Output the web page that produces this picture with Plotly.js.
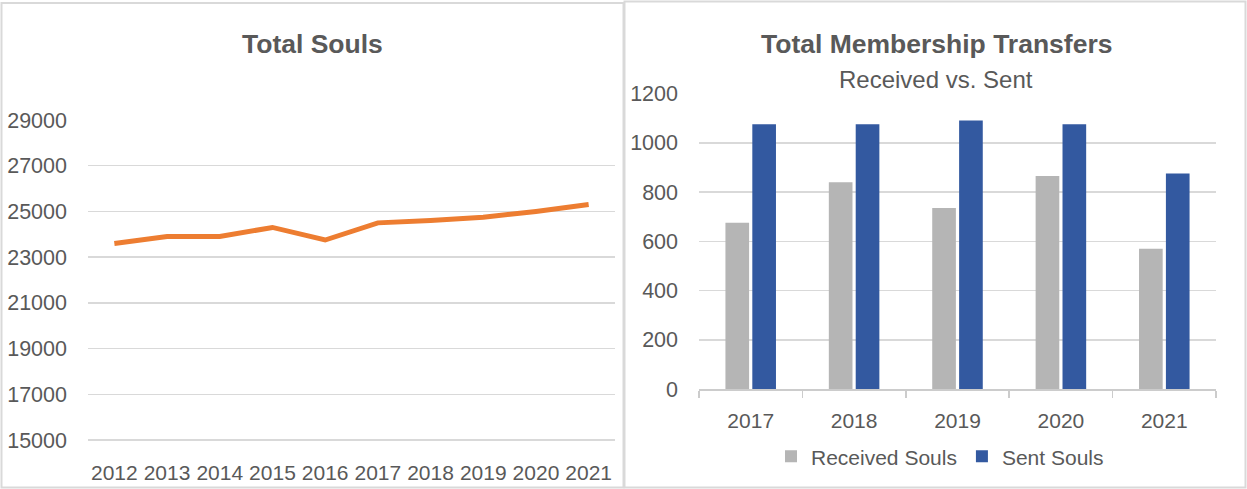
<!DOCTYPE html>
<html>
<head>
<meta charset="utf-8">
<script src="https://cdn.plot.ly/plotly-3.0.1.min.js"></script>
<style>
  html, body { margin: 0; padding: 0; background: #ffffff; }
  #chart { width: 1247px; height: 489px; }
</style>
</head>
<body>
<div id="chart"></div>
<script>
// ---- Data ----
const soulYears = ["2012", "2013", "2014", "2015", "2016", "2017", "2018", "2019", "2020", "2021"];
const totalSouls = [23600, 23900, 23900, 24300, 23750, 24500, 24600, 24750, 25000, 25300];

const transferYears = ["2017", "2018", "2019", "2020", "2021"];
const receivedSouls = [675, 840, 735, 865, 570];
const sentSouls = [1075, 1075, 1090, 1075, 875];

const soulTicks = [15000, 17000, 19000, 21000, 23000, 25000, 27000, 29000];
const transferTicks = [0, 200, 400, 600, 800, 1000, 1200];

// ---- Layout helpers ----
const W = 1247, H = 489;
const px = v => v / W;
const py = v => 1 - v / H;

const FONT = "Liberation Sans, Arial, sans-serif";
const TXT = "#595959";
const GRID = "#d9d9d9";

const traces = [
  {
    x: soulYears, y: totalSouls, type: "scatter", mode: "lines",
    name: "Total Souls", showlegend: false,
    line: { color: "#ED7D31", width: 5 },
    xaxis: "x", yaxis: "y", hoverinfo: "x+y"
  },
  {
    x: transferYears, y: receivedSouls, type: "bar", name: "Received Souls",
    marker: { color: "#b5b5b5" }, xaxis: "x2", yaxis: "y2"
  },
  {
    x: transferYears, y: sentSouls, type: "bar", name: "Sent Souls",
    marker: { color: "#3359a0" }, xaxis: "x2", yaxis: "y2"
  }
];

const layout = {
  width: W, height: H,
  margin: { l: 0, r: 0, t: 0, b: 0, pad: 0 },
  paper_bgcolor: "#ffffff", plot_bgcolor: "#ffffff",
  font: { family: FONT, color: TXT, size: 21 },
  barmode: "group", bargap: 0.48, bargroupgap: 0.12,
  xaxis: {
    domain: [px(88), px(615)], anchor: "y", type: "category",
    range: [-0.5, soulYears.length - 0.5],
    showgrid: false, zeroline: false, showline: false, ticks: "",
    tickfont: { family: FONT, size: 21, color: TXT },
    ticklabelstandoff: 16, fixedrange: true
  },
  yaxis: {
    domain: [py(442.3), py(120)], anchor: "x", range: [14900, 29000],
    tickvals: soulTicks, ticktext: soulTicks.map(String),
    showgrid: true, gridcolor: GRID, gridwidth: 1.5, zeroline: false, showline: false, ticks: "",
    tickfont: { family: FONT, size: 21.5, color: TXT },
    ticklabelstandoff: 20, fixedrange: true
  },
  xaxis2: {
    domain: [px(699), px(1216)], anchor: "y2", type: "category",
    showgrid: false, zeroline: false,
    showline: true, linecolor: "#cccccc", linewidth: 1.5,
    ticks: "outside", tickson: "boundaries", ticklen: 7, tickcolor: "#cccccc", tickwidth: 1.5,
    tickfont: { family: FONT, size: 21, color: TXT },
    ticklabelstandoff: 12, fixedrange: true
  },
  yaxis2: {
    domain: [py(389), py(93.5)], anchor: "x2", range: [0, 1200],
    tickvals: transferTicks, ticktext: transferTicks.map(String),
    showgrid: true, gridcolor: GRID, gridwidth: 1.5, zeroline: false, showline: false, ticks: "",
    tickfont: { family: FONT, size: 21.5, color: TXT },
    ticklabelstandoff: 20, fixedrange: true
  },
  legend: {
    orientation: "h", x: px(940), xanchor: "center", y: py(456.7), yanchor: "middle",
    font: { family: FONT, size: 21, color: TXT }, bgcolor: "rgba(0,0,0,0)",
    itemclick: false, itemdoubleclick: false
  },
  annotations: [
    { text: "Total Souls", xref: "paper", yref: "paper", x: px(312.5), y: py(44),
      xanchor: "center", yanchor: "middle", showarrow: false,
      font: { family: FONT, size: 26.5, color: TXT, weight: 700 } },
    { text: "Total Membership Transfers", xref: "paper", yref: "paper", x: px(936), y: py(44),
      xanchor: "center", yanchor: "middle", showarrow: false,
      font: { family: FONT, size: 26.5, color: TXT, weight: 700 } },
    { text: "Received vs. Sent", xref: "paper", yref: "paper", x: px(936), y: py(80),
      xanchor: "center", yanchor: "middle", showarrow: false,
      font: { family: FONT, size: 24, color: TXT } }
  ],
  shapes: [
    { type: "rect", xref: "paper", yref: "paper", x0: px(1.5), x1: px(623.5), y0: py(487.5), y1: py(3),
      line: { color: GRID, width: 2 }, fillcolor: "rgba(0,0,0,0)", layer: "below" },
    { type: "rect", xref: "paper", yref: "paper", x0: px(624.5), x1: px(1245.5), y0: py(487.5), y1: py(1.5),
      line: { color: GRID, width: 2 }, fillcolor: "rgba(0,0,0,0)", layer: "below" }
  ],
  showlegend: true
};

Plotly.newPlot("chart", traces, layout, { displayModeBar: false, staticPlot: true });
</script>
</body>
</html>
